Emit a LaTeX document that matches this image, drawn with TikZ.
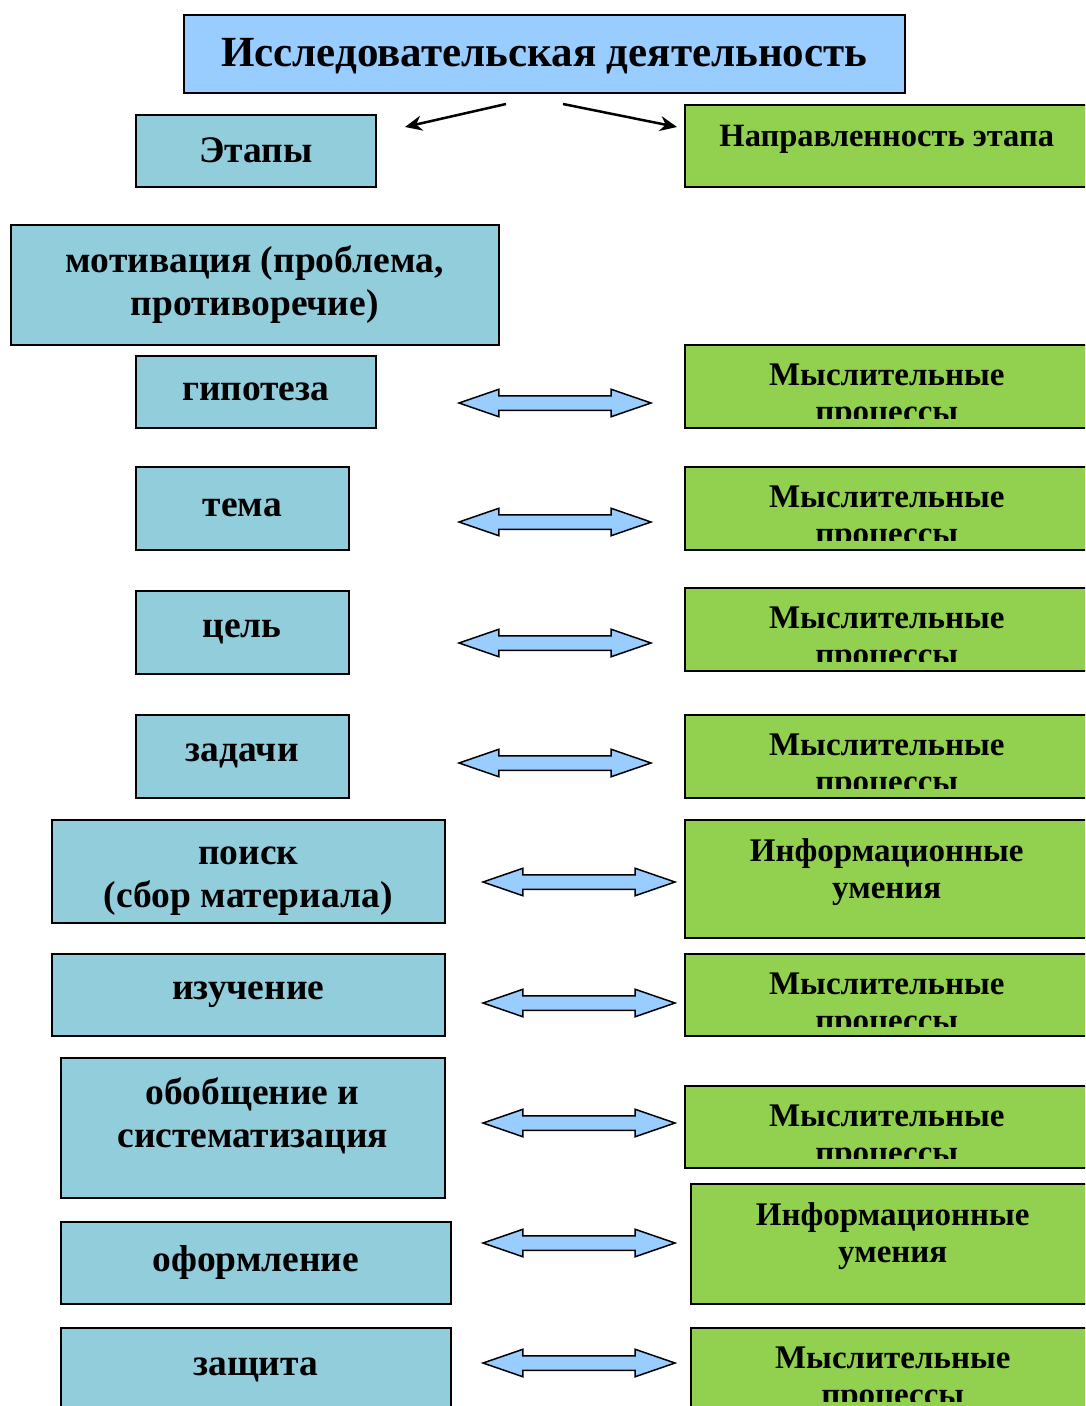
\documentclass[tikz,border=0pt]{standalone}
\usepackage{fontspec}
\setmainfont{Liberation Serif}
\usetikzlibrary{shapes.arrows, arrows.meta}
\definecolor{titleblue}{HTML}{99CCFF}
\definecolor{stagefill}{HTML}{92CDDC}
\definecolor{dirgreen}{HTML}{92D050}
\tikzstyle{title} = [rectangle, draw=black, fill=titleblue, line width=1.5pt, anchor=north west, inner sep=0pt, font=\bfseries\fontsize{43}{47}\selectfont]
\tikzstyle{stage} = [rectangle, draw=black, fill=stagefill, line width=1.5pt, anchor=north west, inner sep=0pt, align=center, font=\bfseries\fontsize{37.5}{43}\selectfont]
\tikzstyle{direction} = [rectangle, draw=black, fill=dirgreen, line width=1.5pt, anchor=north west, inner sep=0pt]
\tikzstyle{link} = [double arrow, draw=black, fill=titleblue, line width=1.5pt, inner xsep=0pt, inner ysep=6.5pt, minimum height=192pt, double arrow head extend=6.5pt, double arrow tip angle=38]
\tikzstyle{arrow} = [line width=2.5pt, -{Stealth[length=17pt, width=15pt]}]
\tikzset{dirtext/.style={path picture={
  \begin{scope}
    \clip ([yshift=9pt]path picture bounding box.south west) rectangle (path picture bounding box.north east);
    \node[anchor=north, align=center, draw=none, fill=none, inner sep=0pt, minimum width=0pt, minimum height=0pt, font=\bfseries\fontsize{33}{37}\selectfont] at ([yshift=-18pt]path picture bounding box.north) {#1};
  \end{scope}}}}

\begin{document}
\begin{tikzpicture}[x=1pt, y=-1pt]
  \useasboundingbox (0,0) rectangle (1085,1406);
  \clip (0,0) rectangle (1085,1406);
  % top
  \node (research) [title, minimum width=721pt, minimum height=78pt, text height=33pt] at (183,14) {Исследовательская деятельность};
  \node (stages) [stage, minimum width=240pt, minimum height=72pt] at (135,114) {Этапы};
  \node (focus) [direction, minimum width=404pt, minimum height=82pt, font=\bfseries\fontsize{32.5}{37}\selectfont, text depth=20pt] at (684,104) {Направленность этапа};
  \coordinate (splitL) at (506,104);
  \coordinate (splitR) at (563,104);
  \coordinate (toStages) at (405,127);
  \coordinate (toFocus) at (677,127);
  \draw [arrow] (splitL) -- (toStages);
  \draw [arrow] (splitR) -- (toFocus);
  % stages
  \node (motiv) [stage, minimum width=488pt, minimum height=120pt] at (10,224) {мотивация (проблема,\\противоречие)};
  \node (hyp) [stage, minimum width=240pt, minimum height=72pt] at (135,355) {гипотеза};
  \node (theme) [stage, minimum width=213pt, minimum height=83pt] at (135,466) {тема};
  \node (goal) [stage, minimum width=213pt, minimum height=83pt] at (135,590) {цель};
  \node (tasks) [stage, minimum width=213pt, minimum height=83pt] at (135,714) {задачи};
  \node (search) [stage, minimum width=393pt, minimum height=103pt, text height=80pt] at (51,819) {поиск\\(сбор материала)};
  \node (study) [stage, minimum width=393pt, minimum height=82pt] at (51,953) {изучение};
  \node (summary) [stage, minimum width=384pt, minimum height=140pt, text depth=30pt] at (60,1057) {обобщение и\\систематизация};
  \node (design) [stage, minimum width=390pt, minimum height=82pt] at (60,1221) {оформление};
  \node (defence) [stage, minimum width=390pt, minimum height=84pt] at (60,1327) {защита};
  % directions
  \node (dir1) [direction, minimum width=404pt, minimum height=83pt, dirtext={Мыслительные\\процессы}] at (684,344) {};
  \node (dir2) [direction, minimum width=404pt, minimum height=83pt, dirtext={Мыслительные\\процессы}] at (684,466) {};
  \node (dir3) [direction, minimum width=404pt, minimum height=83pt, dirtext={Мыслительные\\процессы}] at (684,587) {};
  \node (dir4) [direction, minimum width=404pt, minimum height=83pt, dirtext={Мыслительные\\процессы}] at (684,714) {};
  \node (dir5) [direction, minimum width=404pt, minimum height=118pt, dirtext={Информационные\\умения}] at (684,819) {};
  \node (dir6) [direction, minimum width=404pt, minimum height=82pt, dirtext={Мыслительные\\процессы}] at (684,953) {};
  \node (dir7) [direction, minimum width=404pt, minimum height=82pt, dirtext={Мыслительные\\процессы}] at (684,1085) {};
  \node (dir8) [direction, minimum width=404pt, minimum height=120pt, dirtext={Информационные\\умения}] at (690,1183) {};
  \node (dir9) [direction, minimum width=404pt, minimum height=83pt, dirtext={Мыслительные\\процессы}] at (690,1327) {};
  % links
  \node (link1) [link] at (555,403) {};
  \node (link2) [link] at (555,522) {};
  \node (link3) [link] at (555,643) {};
  \node (link4) [link] at (555,763) {};
  \node (link5) [link] at (579,882) {};
  \node (link6) [link] at (579,1003) {};
  \node (link7) [link] at (579,1123) {};
  \node (link8) [link] at (579,1243) {};
  \node (link9) [link] at (579,1363) {};
\end{tikzpicture}
\end{document}
